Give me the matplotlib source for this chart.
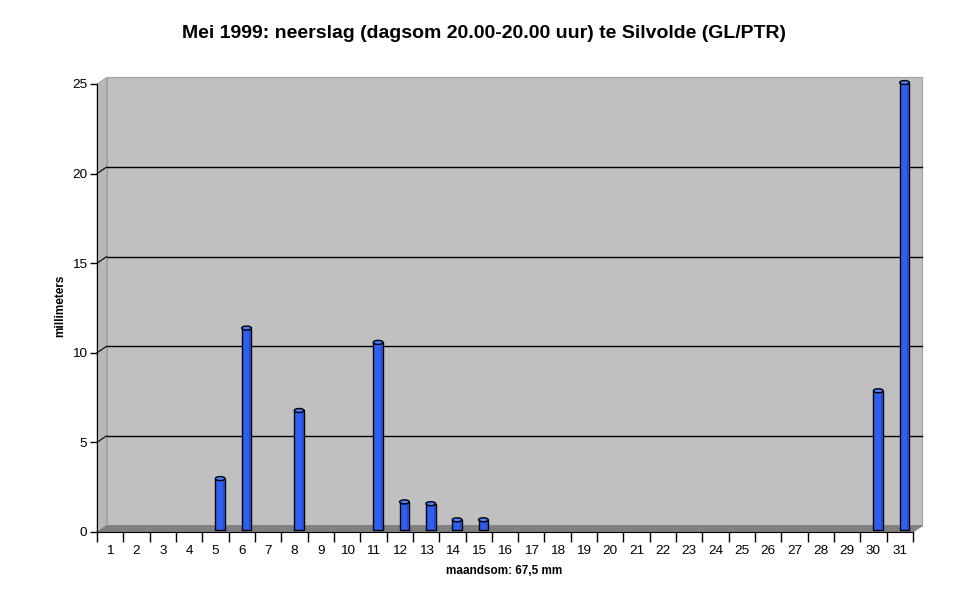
import matplotlib
matplotlib.use("Agg")
import matplotlib.pyplot as plt
from matplotlib.patches import Polygon, Rectangle, Ellipse

plt.rcParams['font.family'] = ['Liberation Sans', 'DejaVu Sans']

# ---- data ----
days = list(range(1, 32))
rain_mm = [0, 0, 0, 0, 2.8, 11.2, 0, 6.6, 0, 0, 10.4, 1.5, 1.4, 0.5, 0.5,
           0, 0, 0, 0, 0, 0, 0, 0, 0, 0, 0, 0, 0, 0, 7.7, 24.9]
y_ticks = [0, 5, 10, 15, 20, 25]
title = "Mei 1999: neerslag (dagsom 20.00-20.00 uur) te Silvolde (GL/PTR)"
y_label = "millimeters"
x_label = "maandsom: 67,5 mm"

W, H = 968, 604
fig = plt.figure(figsize=(W / 100, H / 100), dpi=100)
ax_left, ax_right, ax_top, ax_bot = 97, 913, 84, 532
ax = fig.add_axes([ax_left / W, 1 - ax_bot / H, (ax_right - ax_left) / W, (ax_bot - ax_top) / H])
ax.set_xlim(0.5, 31.5)
ax.set_ylim(0, 25)
ax.patch.set_visible(False)

# depth offset in pixels -> data units
DX, DY = 9.5, 6.5
px_x = (ax_right - ax_left) / 31.0
px_y = (ax_bot - ax_top) / 25.0
ddx, ddy = DX / px_x, DY / px_y

x0, x1 = 0.5, 31.5
ymax = 25

# back wall
ax.add_patch(Rectangle((x0 + ddx, ddy), x1 - x0, ymax, facecolor='#c0c0c0',
                       edgecolor='#a0a0a0', lw=0.8, clip_on=False, zorder=0))
# side wall
ax.add_patch(Polygon([(x0, 0), (x0 + ddx, ddy), (x0 + ddx, ymax + ddy), (x0, ymax)],
                     closed=True, facecolor='#b8b8b8', edgecolor='#a0a0a0', lw=0.6,
                     clip_on=False, zorder=0.5))
# floor
ax.add_patch(Polygon([(x0, 0), (x1, 0), (x1 + ddx, ddy), (x0 + ddx, ddy)],
                     closed=True, facecolor='#808080', edgecolor='#808080', lw=0.6,
                     clip_on=False, zorder=0.6))
# right edge line
ax.plot([x1, x1 + ddx], [0, ddy], color='#909090', lw=0.8, clip_on=False, zorder=0.7)

# gridlines
for yv in y_ticks[1:-1]:
    ax.plot([x0 + ddx, x1 + ddx], [yv + ddy, yv + ddy], color='black', lw=1.0,
            clip_on=False, zorder=1)
    ax.plot([x0, x0 + ddx], [yv, yv + ddy], color='black', lw=0.8,
            clip_on=False, zorder=1)

# bars (cylinders at mid depth)
bw = 0.37
ell_h = 4.0 / px_y
for d, v in zip(days, rain_mm):
    if v <= 0:
        continue
    cx = d + ddx * 0.5
    by = ddy * 0.35
    top = v + ddy * 0.5
    ax.add_patch(Rectangle((cx - bw / 2, by), bw, top - by,
                           facecolor='#2f5ff0', edgecolor='black', lw=1.0,
                           clip_on=False, zorder=3))
    ax.add_patch(Rectangle((cx + bw / 2 - 0.08, by), 0.06, top - by,
                           facecolor='#2448c8', edgecolor='none',
                           clip_on=False, zorder=3.1))
    ax.add_patch(Ellipse((cx, top), bw, ell_h, facecolor='#4d7cff',
                         edgecolor='black', lw=1.0, clip_on=False, zorder=3.2))

# axes styling
for s in ['top', 'right']:
    ax.spines[s].set_visible(False)
ax.spines['left'].set_color('black')
ax.spines['bottom'].set_color('black')
ax.spines['left'].set_zorder(2)
ax.spines['bottom'].set_zorder(2)

ax.set_yticks(y_ticks)
ax.set_yticklabels([str(v) for v in y_ticks], fontsize=9.7)
ax.tick_params(axis='y', length=5, width=1, pad=2, direction='out')

ax.set_xticks(days)
ax.set_xticklabels([str(d) for d in days], fontsize=9.7)
ax.set_xticks([d + 0.5 for d in [0] + days], minor=True)
ax.tick_params(axis='x', which='major', length=0, pad=9)
ax.tick_params(axis='x', which='minor', length=7, width=1, direction='out')

fig.text(484 / W, 1 - 33 / H, title, ha='center', va='center',
         fontsize=14, fontweight='bold')
fig.text(60 / W, 1 - 306 / H, y_label, ha='center', va='center', rotation=90,
         fontsize=8.5, fontweight='bold')
fig.text(504 / W, 1 - 571 / H, x_label, ha='center', va='center',
         fontsize=8.5, fontweight='bold')

fig.savefig('out.png', dpi=100, facecolor='white')
